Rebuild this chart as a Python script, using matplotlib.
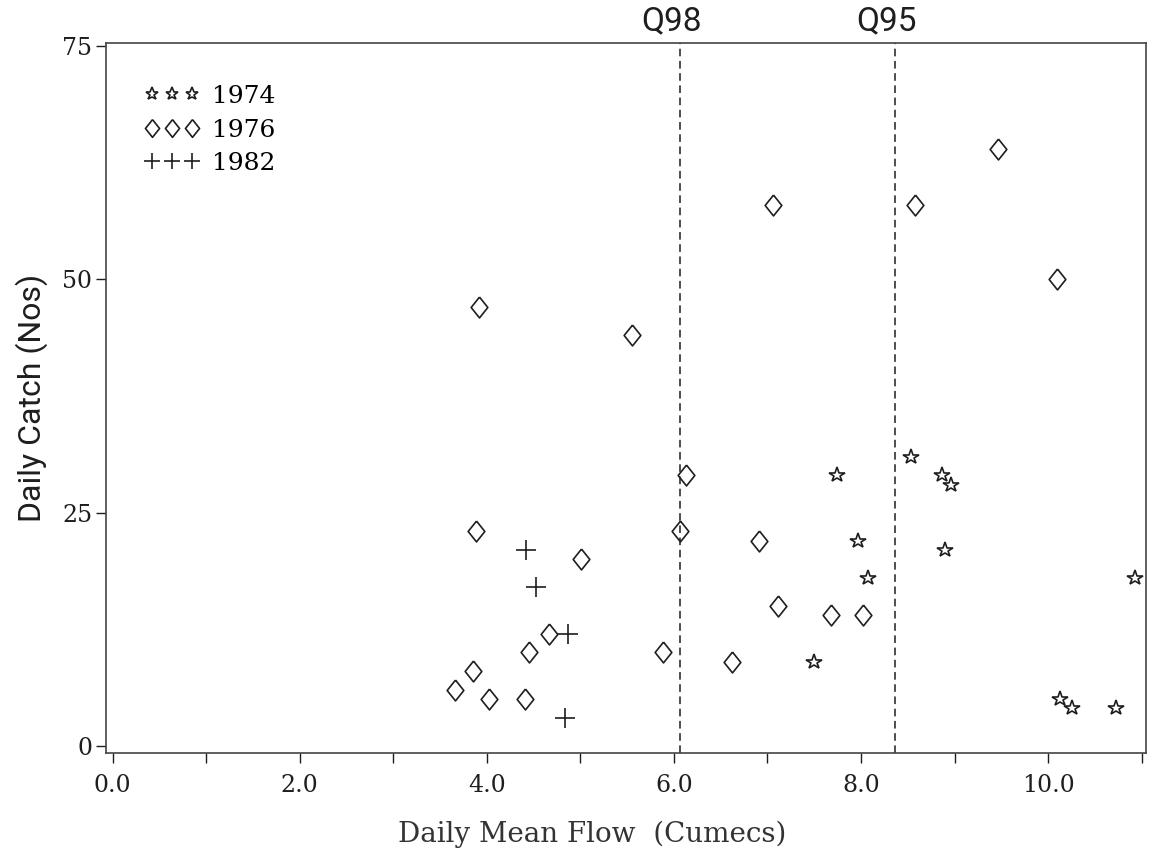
import numpy as np
from matplotlib import pyplot as plt
from matplotlib.ticker import MultipleLocator

# 1974 catches
flow_1974 = [7.74, 7.97, 8.07, 7.50, 8.53, 8.87, 8.96, 8.90, 10.93, 10.13, 10.25, 10.73]
catch_1974 = [29, 22, 18, 9, 31, 29, 28, 21, 18, 5, 4, 4]

# 1976 catches
flow_1976 = [3.92, 5.55, 6.13, 3.88, 6.06, 5.01, 4.66, 4.45, 5.88, 3.85, 3.66, 4.02,
             4.41, 7.06, 8.58, 6.91, 7.11, 7.68, 8.02, 6.62, 9.46, 10.09]
catch_1976 = [47, 44, 29, 23, 23, 20, 12, 10, 10, 8, 6, 5,
              5, 58, 58, 22, 15, 14, 14, 9, 64, 50]

# 1982 catches
flow_1982 = [4.42, 4.53, 4.87, 4.84]
catch_1982 = [21, 17, 12, 3]

q_names = ["Q98", "Q95"]
q_flows = [6.07, 8.36]

xticks = [0, 2, 4, 6, 8, 10]
yticks = [0, 25, 50, 75]

ink = "#1e1e1e"
serif = "DejaVu Serif"
narrow = ["Liberation Sans Narrow", "Roboto", "DejaVu Sans"]

plt.rcParams['font.family'] = serif
fig = plt.figure(figsize=(11.56, 8.52), dpi=100)
ax = fig.add_axes([0.0917, 0.116, 0.9, 0.834])

diamond = [(0, 1), (0.8, 0), (0, -1), (-0.8, 0), (0, 1)]

ax.plot(flow_1974, catch_1974, linestyle="none", marker="*", markersize=11.5,
        markerfacecolor="white", markeredgecolor=ink, markeredgewidth=1.2, label="1974")
ax.plot(flow_1976, catch_1976, linestyle="none", marker=diamond, markersize=15,
        markerfacecolor="none", markeredgecolor=ink, markeredgewidth=1.2, label="1976")
ax.plot(flow_1982, catch_1982, linestyle="none", marker="+", markersize=14,
        markeredgecolor=ink, markeredgewidth=1.2, label="1982")

for name, q in zip(q_names, q_flows):
    ax.axvline(q, color=ink, linewidth=1.1, linestyle=(0, (5, 3)))
    ax.text(q - 0.09, 1.008, name, transform=ax.get_xaxis_transform(),
            ha="center", va="bottom", fontsize=24, family=narrow, color=ink)

ax.set_xlim(-0.07, 11.05)
ax.set_ylim(-0.8, 75.4)
ax.set_xticks(xticks)
ax.set_xticklabels(["%.1f" % x for x in xticks])
ax.xaxis.set_minor_locator(MultipleLocator(1))
ax.set_yticks(yticks)

ax.tick_params(axis="both", which="both", direction="out", length=7, width=1,
               color=ink, labelcolor=ink, labelsize=17)
ax.tick_params(axis="x", pad=8)
ax.tick_params(axis="y", pad=3)
for s in ax.spines.values():
    s.set_color("#444444")
    s.set_linewidth(1.2)

ax.set_xlabel("Daily Mean Flow  (Cumecs)", fontsize=20, color="#333333", labelpad=10)
ax.xaxis.set_label_coords(0.467, -0.095)
ax.set_ylabel("Daily Catch (Nos)", fontsize=23, family=narrow, color=ink, labelpad=10)

ax.legend(loc="upper left", bbox_to_anchor=(0.037, 0.94), frameon=False, numpoints=3,
          handlelength=2.2, handletextpad=0.5, labelspacing=0.42, borderaxespad=0,
          borderpad=0, fontsize=18, markerscale=0.85)

plt.savefig("out.png", format="png", dpi=100)
